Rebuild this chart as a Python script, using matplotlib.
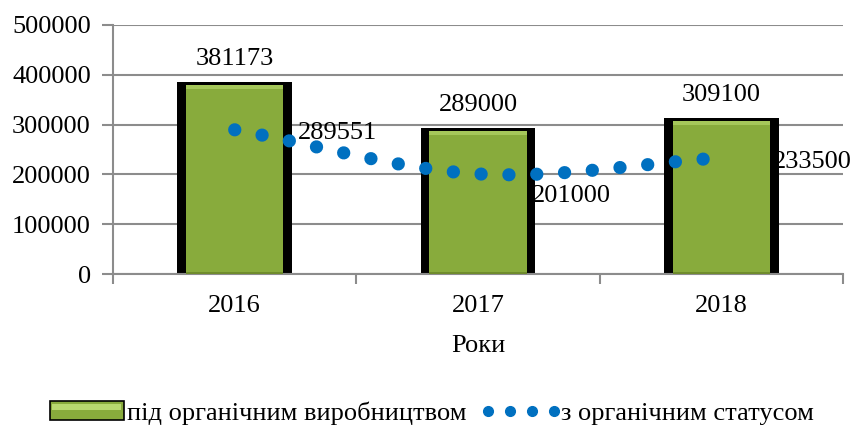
import numpy as np
import matplotlib
matplotlib.use("Agg")
import matplotlib.pyplot as plt
from matplotlib.patches import Rectangle
from matplotlib.lines import Line2D
from matplotlib.legend_handler import HandlerBase

plt.rcParams['font.family'] = ['Liberation Serif', 'DejaVu Serif']

years = ['2016', '2017', '2018']
under_organic = [381173, 289000, 309100]
organic_status = [289551, 201000, 233500]
bar_label = 'під органічним виробництвом'
line_label = 'з органічним статусом'
xlabel = 'Роки'
yticks = [0, 100000, 200000, 300000, 400000, 500000]

fig = plt.figure(figsize=(8.58, 4.29), dpi=100)
ax = fig.add_axes([0.1317, 0.361, 0.851, 0.581])
x = np.arange(len(years))
FS = 19
grid_c = '#8c8c8c'

# bars: black frame + green fill
w = 0.47
ax.bar(x, [v + 4000 for v in under_organic], width=w, color='black', zorder=2)
inner_w = w - 0.07
ax.bar(x, [v - 2000 for v in under_organic], width=inner_w, color='#88ab3c', zorder=3)
for xi, v in zip(x, under_organic):
    ax.add_patch(Rectangle((xi - inner_w/2, v - 10000), inner_w, 8000,
                           color='#a5c75a', zorder=4, lw=0))
    ax.add_patch(Rectangle((xi - inner_w/2, 0), inner_w, 5000,
                           color='#6f8c2c', zorder=4, lw=0))

# smooth (Catmull-Rom) rendering of the line through the data points
def catmull(xs, ys, n=200):
    xs = np.asarray(xs, float); ys = np.asarray(ys, float)
    px = np.concatenate([[2*xs[0]-xs[1]], xs, [2*xs[-1]-xs[-2]]])
    py = np.concatenate([[2*ys[0]-ys[1]], ys, [2*ys[-1]-ys[-2]]])
    ox, oy = [], []
    for i in range(1, len(px)-2):
        t = np.linspace(0, 1, n, endpoint=(i == len(px)-3))
        for arr, out in ((px, ox), (py, oy)):
            p0, p1, p2, p3 = arr[i-1], arr[i], arr[i+1], arr[i+2]
            out.append(0.5*((2*p1) + (-p0+p2)*t + (2*p0-5*p1+4*p2-p3)*t**2
                             + (-p0+3*p1-3*p2+p3)*t**3))
    return np.concatenate(ox), np.concatenate(oy)

sx, sy = catmull(x, organic_status)
ax.plot(sx, sy, color='#0070c0', lw=9.5, linestyle=(0, (0.01, 2.1)),
        solid_capstyle='round', dash_capstyle='round', zorder=5)

# data labels
for xi, v in zip(x, under_organic):
    ax.text(xi, v + 28000, str(v), ha='center', va='bottom', fontsize=FS, zorder=6)
ax.text(x[0] + 0.26, organic_status[0] - 6000, str(organic_status[0]), ha='left', va='center', fontsize=FS, zorder=6)
ax.text(x[1] + 0.22, organic_status[1] - 22000, str(organic_status[1]), ha='left', va='top', fontsize=FS, zorder=6)
ax.text(x[2] + 0.21, organic_status[2] - 8000, str(organic_status[2]), ha='left', va='center', fontsize=FS, zorder=6)

ax.set_xlim(-0.5, 2.5)
ax.set_ylim(0, 500000)
ax.set_yticks(yticks)
ax.set_yticklabels([str(t) for t in yticks], fontsize=FS)
ax.set_xticks(x)
ax.set_xticklabels(years, fontsize=FS)
ax.set_xticks([-0.5, 0.5, 1.5, 2.5], minor=True)
ax.tick_params(axis='x', which='major', length=0, pad=15)
ax.tick_params(axis='x', which='minor', length=7, color=grid_c, width=1.5, direction='out')
ax.tick_params(axis='y', length=8, color=grid_c, width=1.5, direction='out', pad=8)
ax.set_xlabel(xlabel, fontsize=FS, labelpad=13)
ax.yaxis.grid(True, color=grid_c, lw=1.5, zorder=0)
ax.set_axisbelow(True)
for s in ['top', 'right']:
    ax.spines[s].set_visible(False)
for s in ['left', 'bottom']:
    ax.spines[s].set_color(grid_c)
    ax.spines[s].set_linewidth(1.5)

class BarHandler(HandlerBase):
    def create_artists(self, legend, orig, xd, yd, width, height, fontsize, trans):
        r1 = Rectangle((xd, yd), width, height, facecolor='#88ab3c', edgecolor='black', lw=1.2, transform=trans)
        r2 = Rectangle((xd + 2, yd + height*0.55), width - 4, height*0.3, facecolor='#b8d870', lw=0, transform=trans)
        return [r1, r2]

class DotHandler(HandlerBase):
    def create_artists(self, legend, orig, xd, yd, width, height, fontsize, trans):
        xs = np.linspace(xd + 4, xd + width - 2, 4)
        return [Line2D(xs, [yd + height/2]*4, ls='none', marker='o', ms=7,
                       color='#0070c0', transform=trans)]

h1 = Rectangle((0, 0), 1, 1)
h2 = Line2D([], [])
fig.legend([h1, h2], [bar_label, line_label], loc='center', bbox_to_anchor=(0.503, 0.037),
           ncol=2, frameon=False, fontsize=FS, handlelength=2.8, handleheight=0.7,
           handletextpad=0.15, columnspacing=0.6,
           handler_map={h1: BarHandler(), h2: DotHandler()})

fig.savefig('out.png', dpi=100)
